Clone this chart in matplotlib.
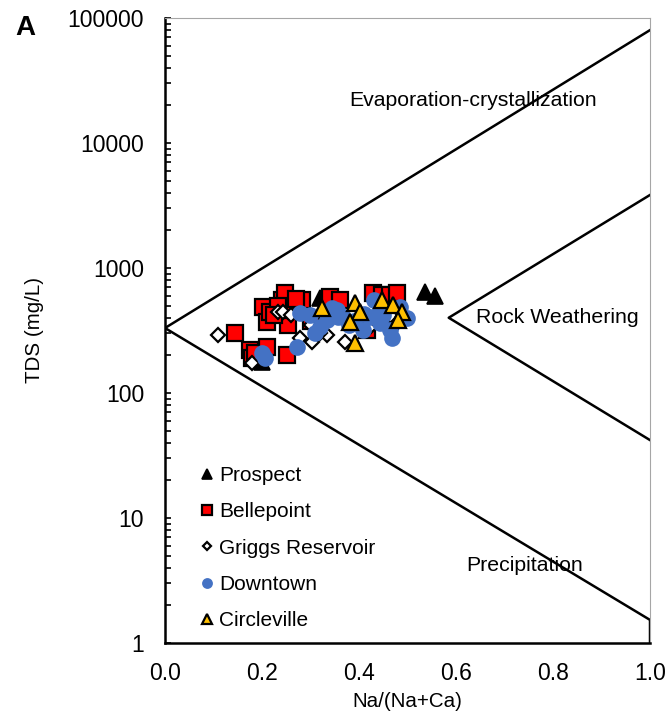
import matplotlib
matplotlib.use("Agg")
import matplotlib.pyplot as plt
import matplotlib.ticker as plticker

plt.rcParams['font.family'] = ['Liberation Sans', 'DejaVu Sans']

# sample points, Na/(Na+Ca) vs TDS (mg/L)
prospect_x = [0.200, 0.536, 0.557, 0.320, 0.470]
prospect_y = [177, 643, 597, 575, 398]

bellepoint_x = [0.144, 0.175, 0.179, 0.186, 0.202, 0.210, 0.216, 0.241, 0.247, 0.252,
                0.254, 0.258, 0.210, 0.282, 0.340, 0.360, 0.416, 0.429, 0.447, 0.464,
                0.478, 0.233, 0.225, 0.270, 0.300]
bellepoint_y = [302, 221, 191, 209, 488, 370, 445, 555, 631, 200,
                350, 461, 233, 555, 586, 555, 319, 631, 608, 608,
                631, 500, 420, 570, 380]

griggs_x = [0.109, 0.179, 0.233, 0.243, 0.278, 0.303, 0.334, 0.371, 0.468, 0.300,
            0.260, 0.420, 0.320, 0.480]
griggs_y = [291, 174, 445, 445, 275, 256, 291, 256, 406, 350,
            420, 330, 300, 370]

downtown_x = [0.200, 0.206, 0.272, 0.278, 0.299, 0.320, 0.334, 0.344, 0.357, 0.355,
              0.367, 0.408, 0.423, 0.443, 0.464, 0.468, 0.443, 0.485, 0.499, 0.380,
              0.410, 0.390, 0.310, 0.430, 0.450]
downtown_y = [209, 191, 233, 437, 421, 337, 384, 479, 406, 461,
              406, 319, 406, 363, 319, 275, 461, 488, 398, 350,
              430, 380, 300, 550, 420]

circleville_x = [0.324, 0.392, 0.402, 0.381, 0.392, 0.447, 0.470, 0.489, 0.480]
circleville_y = [479, 525, 445, 370, 251, 555, 506, 445, 384]

# Gibbs boundary lines
outer_x = [1.0, 0.0, 1.0, 1.0]
outer_y = [80000, 331, 1.53, 1]
inner_x = [1.0, 0.585, 1.0]
inner_y = [3840, 400, 42]

fig = plt.figure(figsize=(6.68, 7.23), dpi=100)
ax = fig.add_axes([165 / 668, 1 - 643 / 723, 485 / 668, 625 / 723])

ax.plot(outer_x, outer_y, color='black', lw=1.8, zorder=1)
ax.plot(inner_x, inner_y, color='black', lw=1.8, zorder=1)

ax.plot(prospect_x, prospect_y, '^', ms=11, color='black', mec='black', mew=1.2,
        label='Prospect', zorder=3)
ax.plot(bellepoint_x, bellepoint_y, 's', ms=11, color='#ff0000', mec='black', mew=1.6,
        label='Bellepoint', zorder=3)
ax.plot(griggs_x, griggs_y, 'D', ms=7, color='white', mec='black', mew=1.6,
        label='Griggs Reservoir', zorder=3)
ax.plot(downtown_x, downtown_y, 'o', ms=12, color='#4472c4', mec='#4472c4', mew=0,
        label='Downtown', zorder=3)
ax.plot(circleville_x, circleville_y, '^', ms=11, color='#ffc000', mec='black', mew=1.6,
        label='Circleville', zorder=3)

ax.set_yscale('log')
ax.set_ylim(1, 100000)
ax.set_xlim(0, 1)
ax.set_yticks([1, 10, 100, 1000, 10000, 100000])
ax.yaxis.set_major_formatter(plticker.FuncFormatter(lambda v, p: f'{int(round(v))}'))
ax.yaxis.set_minor_locator(plticker.LogLocator(base=10, subs=range(2, 10), numticks=20))
ax.yaxis.set_minor_formatter(plticker.NullFormatter())
ax.set_xticks([0.0, 0.2, 0.4, 0.6, 0.8, 1.0])
ax.xaxis.set_major_formatter(plticker.FormatStrFormatter('%.1f'))

ax.tick_params(axis='y', which='both', direction='in', length=4.5, width=1.2,
               labelsize=16.5, pad=15)
ax.tick_params(axis='x', which='both', length=0, labelsize=16.5, pad=14)

for side in ['left', 'bottom']:
    ax.spines[side].set_linewidth(1.8)
    ax.spines[side].set_color('black')
for side in ['top', 'right']:
    ax.spines[side].set_linewidth(0.8)
    ax.spines[side].set_color('#a6a6a6')

ax.set_xlabel('Na/(Na+Ca)', fontsize=14.8, labelpad=5)
ax.set_ylabel('TDS (mg/L)', fontsize=14.8, labelpad=17)

ax.text(0.635, 22000, 'Evaporation-crystallization', fontsize=15.3, ha='center', va='center')
ax.text(0.808, 400, 'Rock Weathering', fontsize=15.3, ha='center', va='center')
ax.text(0.742, 4.2, 'Precipitation', fontsize=15.3, ha='center', va='center')

fig.text(25 / 668, 1 - 28 / 723, 'A', fontsize=20, fontweight='bold', ha='center', va='center')

ax.legend(loc='upper left', bbox_to_anchor=(199 / 668, 1 - 466 / 723),
          bbox_transform=fig.transFigure, frameon=False, fontsize=15,
          markerscale=0.65, handlelength=0.8, handletextpad=0.15,
          labelspacing=0.83, borderpad=0, borderaxespad=0)

fig.savefig('out.png', dpi=100)
